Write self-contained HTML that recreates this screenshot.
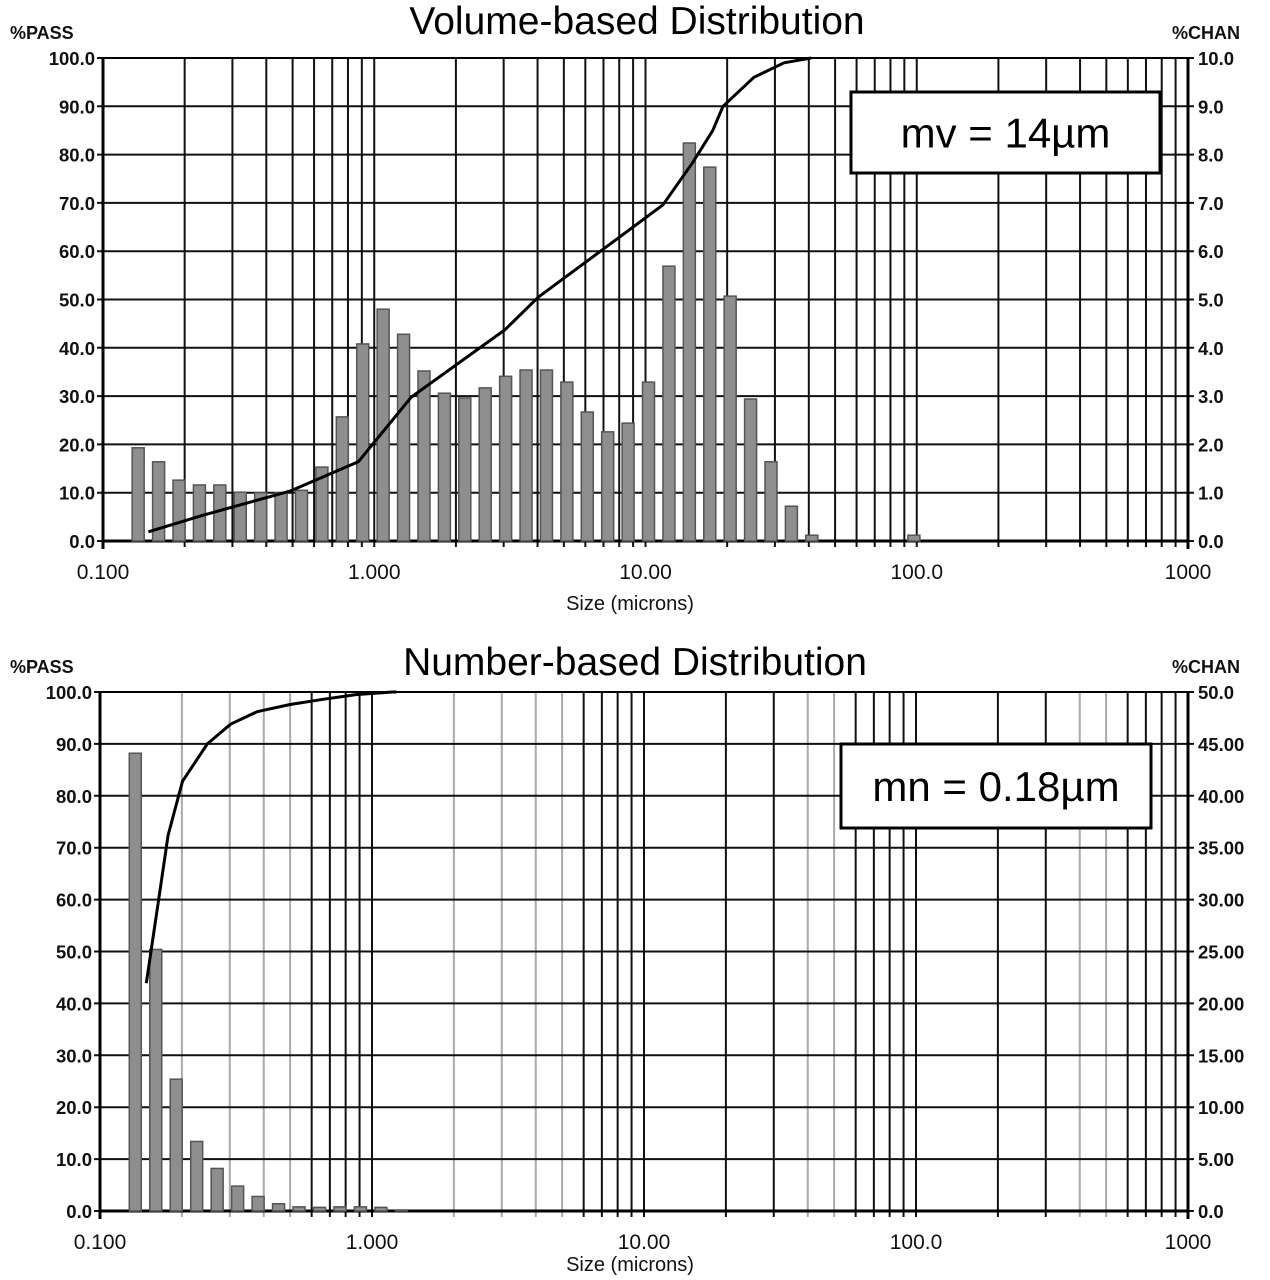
<!DOCTYPE html>
<html><head><meta charset="utf-8"><style>
html,body{margin:0;padding:0;background:#fff;}
svg{display:block;font-family:"Liberation Sans",sans-serif;}
</style></head><body>
<svg id="c" width="1270" height="1280" viewBox="0 0 1270 1280"></svg>
<script>
// ---- Volume-based data ----
const volBinStart = 0.1348;
const volChan = [1.93,1.64,1.26,1.16,1.16,1.01,1.0,1.0,1.05,1.53,2.57,4.08,4.8,4.28,3.52,3.06,2.96,3.17,3.41,3.54,3.54,3.29,2.67,2.26,2.44,3.29,5.69,8.24,7.74,5.07,2.94,1.64,0.72,0.12,0,0,0,0,0.12];
const volCumSize = [0.147,0.229,0.493,0.873,1.37,3.03,4.03,6.9,11.6,14.9,17.7,19.3,25.1,32.4,40.8];
const volCumPass = [1.9,5.2,10.4,16.4,29.8,43.7,50.5,60.2,69.6,78.3,85,90,96,99,100];
// ---- Number-based data ----
const numChan = [44.1,25.2,12.7,6.7,4.1,2.4,1.4,0.7,0.4,0.35,0.4,0.4,0.35,0.1];
const numCumSize = [0.148,0.1655,0.178,0.201,0.248,0.302,0.378,0.5,0.661,0.872,1.19,1.23];
const numCumPass = [43.9,61.1,72.4,82.8,90,93.8,96.2,97.6,98.6,99.5,100,100];
const passTicks = ["0.0","10.0","20.0","30.0","40.0","50.0","60.0","70.0","80.0","90.0","100.0"];
const volChanTicks = ["0.0","1.0","2.0","3.0","4.0","5.0","6.0","7.0","8.0","9.0","10.0"];
const numChanTicks = ["0.0","5.00","10.00","15.00","20.00","25.00","30.00","35.00","40.00","45.00","50.0"];
const xTickLabels = ["0.100","1.000","10.00","100.0","1000"];

const svg = document.getElementById('c');
const NS = 'http://www.w3.org/2000/svg';
function mk(tag, attrs, parent){const e=document.createElementNS(NS,tag);for(const k in attrs)e.setAttribute(k,attrs[k]);(parent||svg).appendChild(e);return e;}

function chart(cfg){
  const g = mk('g',{});
  
  
  const L=cfg.left,R=1188,T=cfg.top,B=cfg.bottom;
  const dec=(R-L)/4;
  const xs=v=>L+(Math.log10(v)+1)*dec;
  const yp=v=>B-(v/100)*(B-T);
  const yc=v=>B-(v/cfg.chanMax)*(B-T);
  for(let d=0;d<4;d++){for(let m=1;m<=9;m++){
    const v=Math.pow(10,d-1)*m; const x=xs(v);
    let col='#111';
    if(cfg.greyMinor && m>1 && (d<2 ? m<=5 : m===4||m===5)) col='#aaa';
    const ln=mk('line',{x1:x,x2:x,y1:T,y2:B+6,stroke:col,'stroke-width':2},g);
    
    
  }}
  for(let i=0;i<=10;i++){
    const y=yp(i*10);
    const ln=mk('line',{x1:L-6,x2:R+6,y1:y,y2:y,stroke:'#111','stroke-width':2},g);
    
    
    const t1=mk('text',{x:L-8,y:y+7,'text-anchor':'end','font-size':18.5,'font-weight':'bold',fill:'#111'},g);
    t1.textContent=passTicks[i];
    
    
    const t2=mk('text',{x:R+10,y:y+7,'font-size':18.5,'font-weight':'bold',fill:'#111'},g);
    t2.textContent=cfg.chanTicks[i];
    
    
  }
  mk('line',{x1:L,x2:L,y1:T,y2:B+8,stroke:'#000','stroke-width':3},g);
  mk('line',{x1:R,x2:R,y1:T,y2:B+8,stroke:'#000','stroke-width':3},g);
  mk('line',{x1:L,x2:R,y1:B,y2:B,stroke:'#000','stroke-width':3},g);
  mk('line',{x1:L,x2:R,y1:T,y2:T,stroke:'#000','stroke-width':2},g);
  cfg.chan.forEach((v,i)=>{
    if(v<=0) return;
    const s=volBinStart*Math.pow(2,i/4); const x=xs(s);
    const r=mk('rect',{x:x-6,y:yc(v),width:12,height:B-yc(v),fill:'#8e8e8e',stroke:'#555','stroke-width':1.5},g);
    
    
  });
  const pts=cfg.cumS.map((s,i)=>xs(s).toFixed(1)+','+yp(cfg.cumP[i]).toFixed(1)).join(' ');
  const pl=mk('polyline',{points:pts,fill:'none',stroke:'#000','stroke-width':3,'stroke-linejoin':'round'},g);
  
  
  xTickLabels.forEach((lab,i)=>{
    const t=mk('text',{x:xs(Math.pow(10,i-1)),y:B+38,'text-anchor':'middle','font-size':21,fill:'#111'},g);
    t.textContent=lab;
    
    
  });
  const xt=mk('text',{x:630,y:B+cfg.xtOff,'text-anchor':'middle','font-size':20,fill:'#111'},g);
  xt.textContent='Size (microns)';
  
  
  const tt=mk('text',{x:cfg.titleX,y:cfg.titleY,'text-anchor':'middle','font-size':39,fill:'#000'},g);
  tt.textContent=cfg.title;
  
  
  const pp=mk('text',{x:10,y:T-19,'font-size':18,'font-weight':'bold',fill:'#111'},g);
  pp.textContent='%PASS';
  
  
  const pc=mk('text',{x:1172,y:T-19,'font-size':18,'font-weight':'bold',fill:'#111'},g);
  pc.textContent='%CHAN';
  
  
  const bx=mk('rect',{x:cfg.box[0],y:cfg.box[1],width:cfg.box[2],height:cfg.box[3],fill:'#fff',stroke:'#000','stroke-width':3},g);
  
  
  const bt=mk('text',{x:cfg.box[0]+cfg.box[2]/2,y:cfg.box[1]+cfg.box[3]/2+15,'text-anchor':'middle','font-size':42,fill:'#000'},g);
  bt.textContent=cfg.boxText;
  
  
}
chart({name:'volume-distribution-chart',left:103,top:58,bottom:541,chanMax:10,chan:volChan,cumS:volCumSize,cumP:volCumPass,chanTicks:volChanTicks,title:'Volume-based Distribution',titleX:637,titleY:34,box:[851,92,309,81],boxText:'mv = 14µm',greyMinor:false,xtOff:69});
chart({name:'number-distribution-chart',left:100,top:692,bottom:1211,chanMax:50,chan:numChan,cumS:numCumSize,cumP:numCumPass,chanTicks:numChanTicks,title:'Number-based Distribution',titleX:635,titleY:675,box:[841,744,310,84],boxText:'mn = 0.18µm',greyMinor:true,xtOff:60});
</script>
</body></html>
